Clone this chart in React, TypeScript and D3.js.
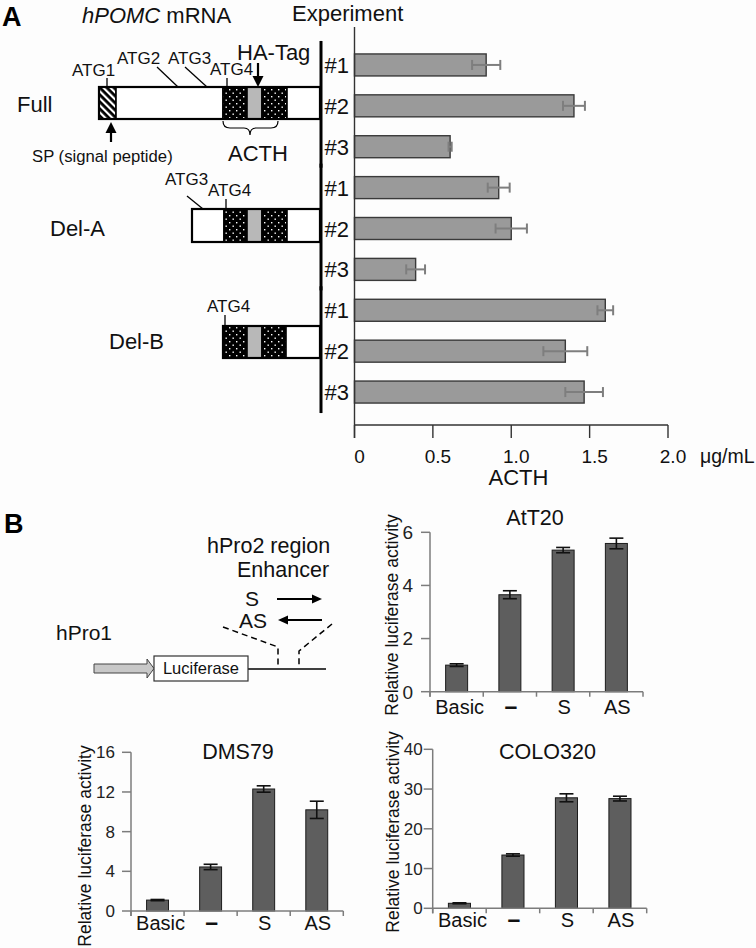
import React from "react";
import * as d3 from "d3";

// ---------- Panel A data ----------
const constructs = ["Full", "Del-A", "Del-B"];
const experiments = ["#1", "#2", "#3"];
const acthMean = [0.84, 1.4, 0.61, 0.92, 1.0, 0.39, 1.6, 1.345, 1.465];
const acthErr = [0.09, 0.07, 0.01, 0.07, 0.1, 0.06, 0.05, 0.14, 0.12];
const acthTicks = [0, 0.5, 1.0, 1.5, 2.0];
const acthTickLabels = ["0", "0.5", "1.0", "1.5", "2.0"];

// ---------- Panel B data ----------
const lucCategories = ["Basic", "–", "S", "AS"];
const att20Values = [1.0, 3.65, 5.33, 5.58];
const att20Errs = [0.05, 0.15, 0.1, 0.2];
const att20Ticks = [0, 2, 4, 6];
const dms79Values = [1.1, 4.44, 12.3, 10.2];
const dms79Errs = [0.06, 0.27, 0.32, 0.87];
const dms79Ticks = [0, 4, 8, 12, 16];
const colo320Values = [1.26, 13.4, 27.8, 27.6];
const colo320Errs = [0.12, 0.3, 1.0, 0.6];
const colo320Ticks = [0, 10, 20, 30, 40];

const FONT = "'Liberation Sans', Arial, Helvetica, sans-serif";

type LucProps = {
  title: string;
  values: number[];
  errs: number[];
  ticks: number[];
  x0: number;
  x1: number;
  yBottom: number;
  yTop: number;
  titleX: number;
  titleY: number;
  labelX: number;
  labelY: number;
  tickLabelGap: number;
  tickFont: number;
  catLabelY: number;
};

function LucChart(p: LucProps) {
  const max = p.ticks[p.ticks.length - 1];
  const x = d3
    .scaleBand<string>()
    .domain(lucCategories)
    .range([p.x0, p.x1])
    .paddingInner(0.587)
    .paddingOuter(0.2935);
  const y = d3.scaleLinear().domain([0, max]).range([p.yBottom, p.yTop]);
  const bw = x.bandwidth();
  const step = x.step();
  const axisColor = "#7c7c7c";
  const bounds = d3.range(lucCategories.length + 1).map((i) => p.x0 + i * step);
  return (
    <g>
      {lucCategories.map((c, i) => (
        <rect
          key={c}
          x={x(c)}
          y={y(p.values[i])}
          width={bw}
          height={y(0) - y(p.values[i])}
          fill="#5e5e5e"
          stroke="#1c1c1c"
          strokeWidth={1}
        />
      ))}
      {lucCategories.map((c, i) => {
        const cx = (x(c) as number) + bw / 2;
        const hi = y(p.values[i] + p.errs[i]);
        const lo = y(p.values[i] - p.errs[i]);
        return (
          <g key={"e" + c} stroke="#111" strokeWidth={1.6}>
            <line x1={cx} x2={cx} y1={hi} y2={lo} />
            <line x1={cx - 7} x2={cx + 7} y1={hi} y2={hi} />
            <line x1={cx - 7} x2={cx + 7} y1={lo} y2={lo} />
          </g>
        );
      })}
      <line x1={p.x0} x2={p.x0} y1={y(max)} y2={p.yBottom + 5} stroke={axisColor} strokeWidth={1.5} />
      <line x1={p.x0} x2={p.x1} y1={p.yBottom} y2={p.yBottom} stroke={axisColor} strokeWidth={1.5} />
      {bounds.map((bx, i) => (
        <line key={"xt" + i} x1={bx} x2={bx} y1={p.yBottom} y2={p.yBottom + 5} stroke={axisColor} strokeWidth={1.5} />
      ))}
      {p.ticks.map((t) => (
        <g key={"yt" + t}>
          <line x1={p.x0 - 9} x2={p.x0} y1={y(t)} y2={y(t)} stroke={axisColor} strokeWidth={1.5} />
          <text
            x={p.x0 - p.tickLabelGap}
            y={y(t) + p.tickFont * 0.36}
            textAnchor="end"
            fontSize={p.tickFont}
            fill="#222"
          >
            {t}
          </text>
        </g>
      ))}
      {lucCategories.map((c) => (
        <text
          key={"cl" + c}
          x={(x(c) as number) + bw / 2 + (c === "Basic" ? 3 : 1)}
          y={p.catLabelY}
          textAnchor="middle"
          fontSize={c === "–" ? 23 : 20}
          fill="#111"
          fontWeight={c === "–" ? 700 : 400}
        >
          {c}
        </text>
      ))}
      <text x={p.titleX} y={p.titleY} textAnchor="middle" fontSize={21.5} fill="#111">
        {p.title}
      </text>
      <text
        transform={`translate(${p.labelX},${p.labelY}) rotate(-90)`}
        textAnchor="middle"
        fontSize={17.5}
        fill="#111"
      >
        Relative luciferase activity
      </text>
    </g>
  );
}

type Seg = { x0: number; x1: number; kind: "white" | "hatch" | "dots" | "gray" };

function Construct({ segs, yTop, h }: { segs: Seg[]; yTop: number; h: number }) {
  const xs = segs[0].x0;
  const xe = segs[segs.length - 1].x1;
  const fillFor = (k: string) =>
    k === "white" ? "#ffffff" : k === "hatch" ? "url(#hatch)" : k === "dots" ? "url(#dots)" : "#b8b8b8";
  return (
    <g>
      {segs.map((s, i) => (
        <rect key={i} x={s.x0} y={yTop} width={s.x1 - s.x0} height={h} fill={fillFor(s.kind)} stroke="#000" strokeWidth={1.6} />
      ))}
      <rect x={xs} y={yTop} width={xe - xs} height={h} fill="none" stroke="#000" strokeWidth={2.2} />
    </g>
  );
}

export default function App() {
  // Panel A scales
  const xA = d3.scaleLinear().domain([0, 2]).range([354.5, 668]);
  const rowKeys = constructs.flatMap((c) => experiments.map((e) => c + e));
  const yA = d3
    .scaleBand<string>()
    .domain(rowKeys)
    .range([44.5, 412.5])
    .paddingInner(0.462)
    .paddingOuter(0.231);
  const bwA = yA.bandwidth();
  const axisY = 425;

  const fullSegs: Seg[] = [
    { x0: 99, x1: 116, kind: "hatch" },
    { x0: 116, x1: 223, kind: "white" },
    { x0: 223, x1: 247, kind: "dots" },
    { x0: 247, x1: 262, kind: "gray" },
    { x0: 262, x1: 287, kind: "dots" },
    { x0: 287, x1: 320, kind: "white" },
  ];
  const delASegs: Seg[] = [
    { x0: 192, x1: 224, kind: "white" },
    { x0: 224, x1: 247, kind: "dots" },
    { x0: 247, x1: 262, kind: "gray" },
    { x0: 262, x1: 287, kind: "dots" },
    { x0: 287, x1: 320, kind: "white" },
  ];
  const delBSegs: Seg[] = [
    { x0: 223, x1: 247, kind: "dots" },
    { x0: 247, x1: 262, kind: "gray" },
    { x0: 262, x1: 286, kind: "dots" },
    { x0: 286, x1: 320, kind: "white" },
  ];

  return (
    <svg
      width={756}
      height={948}
      viewBox="0 0 756 948"
      style={{ position: "absolute", left: 0, top: 0, background: "#fff" }}
      fontFamily={FONT}
    >
      <defs>
        <pattern id="dots" width="7" height="7" patternUnits="userSpaceOnUse">
          <rect width="7" height="7" fill="#000" />
          <rect x="1.5" y="1.5" width="1.4" height="1.4" fill="#fff" />
          <rect x="5" y="5" width="1.4" height="1.4" fill="#fff" />
        </pattern>
        <pattern id="hatch" width="5" height="5" patternUnits="userSpaceOnUse" patternTransform="rotate(-45)">
          <rect width="5" height="5" fill="#000" />
          <rect width="2.2" height="5" fill="#fff" />
        </pattern>
      </defs>
      <rect x={0} y={0} width={756} height={948} fill="#fdfdfd" />

      {/* ===== Panel A ===== */}
      <text x={2} y={26} fontSize={27} fontWeight={700} fill="#000">A</text>
      <text x={82} y={23} fontSize={22} fill="#111">
        <tspan fontStyle="italic">hPOMC</tspan> mRNA
      </text>
      <text x={292} y={21} fontSize={22} fill="#111">Experiment</text>

      {/* Full construct */}
      <Construct segs={fullSegs} yTop={87} h={32} />
      <text x={17} y={112} fontSize={22} fill="#111">Full</text>
      <text x={72} y={76} fontSize={17} fill="#111">ATG1</text>
      <line x1={107} x2={107} y1={78} y2={87} stroke="#000" strokeWidth={1.3} />
      <text x={117} y={64} fontSize={17} fill="#111">ATG2</text>
      <line x1={157} y1={67} x2={178} y2={87} stroke="#000" strokeWidth={1.3} />
      <text x={168} y={64} fontSize={17} fill="#111">ATG3</text>
      <line x1={185} y1={67} x2={207} y2={87} stroke="#000" strokeWidth={1.3} />
      <text x={210} y={75} fontSize={17} fill="#111">ATG4</text>
      <line x1={227} x2={227} y1={78} y2={87} stroke="#000" strokeWidth={1.3} />
      <text x={237} y={60} fontSize={22} fill="#111">HA-Tag</text>
      <line x1={258} x2={258} y1={63} y2={78} stroke="#000" strokeWidth={2.2} />
      <path d="M252.5,76 L263.5,76 L258,87 Z" fill="#000" />
      <line x1={111} x2={111} y1={131} y2={142} stroke="#000" strokeWidth={2.2} />
      <path d="M105.5,133 L116.5,133 L111,122 Z" fill="#000" />
      <text x={32} y={162} fontSize={16.7} fill="#111">SP (signal peptide)</text>
      <path
        d="M223,121 Q223,128 230,128 L244,128 Q250,128 250,135 Q250,128 256,128 L271,128 Q278,128 278,121"
        fill="none"
        stroke="#000"
        strokeWidth={1.2}
      />
      <text x={228} y={161} fontSize={22} fill="#111">ACTH</text>

      {/* Del-A construct */}
      <Construct segs={delASegs} yTop={209} h={33} />
      <text x={50} y={236} fontSize={22} fill="#111">Del-A</text>
      <text x={165} y={185} fontSize={17} fill="#111">ATG3</text>
      <line x1={187} y1={196} x2={203} y2={209} stroke="#000" strokeWidth={1.3} />
      <text x={208} y={196} fontSize={17} fill="#111">ATG4</text>
      <line x1={226} x2={226} y1={199} y2={209} stroke="#000" strokeWidth={1.3} />

      {/* Del-B construct */}
      <Construct segs={delBSegs} yTop={326} h={32} />
      <text x={109} y={349} fontSize={22} fill="#111">Del-B</text>
      <text x={207} y={312} fontSize={17} fill="#111">ATG4</text>
      <line x1={225} x2={225} y1={315} y2={326} stroke="#000" strokeWidth={1.3} />

      {/* group brackets */}
      {constructs.map((c) => {
        const top = (yA(c + "#1") as number) - 13;
        const bot = (yA(c + "#3") as number) + bwA + 10;
        return <line key={"br" + c} x1={321} x2={321} y1={top} y2={bot} stroke="#000" strokeWidth={3} />;
      })}

      {/* bars */}
      {rowKeys.map((k, i) => (
        <rect
          key={k}
          x={xA(0)}
          y={yA(k)}
          width={xA(acthMean[i]) - xA(0)}
          height={bwA}
          fill="#9a9a9a"
          stroke="#3a3a3a"
          strokeWidth={1.4}
        />
      ))}
      {rowKeys.map((k, i) => {
        const cy = (yA(k) as number) + bwA / 2;
        const a = xA(acthMean[i] - acthErr[i]);
        const b = xA(acthMean[i] + acthErr[i]);
        return (
          <g key={"ea" + k} stroke="#7e7e7e" strokeWidth={2}>
            <line x1={a} x2={b} y1={cy} y2={cy} />
            <line x1={a} x2={a} y1={cy - 5} y2={cy + 5} />
            <line x1={b} x2={b} y1={cy - 5} y2={cy + 5} />
          </g>
        );
      })}
      {rowKeys.map((k, i) => (
        <text
          key={"lb" + k}
          x={349}
          y={(yA(k) as number) + bwA / 2 + 8}
          textAnchor="end"
          fontSize={22}
          fill="#111"
        >
          {experiments[i % 3]}
        </text>
      ))}

      {/* axes */}
      <line x1={354.5} x2={354.5} y1={27} y2={axisY + 13} stroke="#333" strokeWidth={1.4} />
      <line x1={354.5} x2={xA(2)} y1={axisY} y2={axisY} stroke="#333" strokeWidth={1.4} />
      {acthTicks.map((t, i) => (
        <g key={"at" + t}>
          <line x1={xA(t)} x2={xA(t)} y1={axisY} y2={axisY + 13} stroke="#333" strokeWidth={1.4} />
          <text x={xA(t) + 5} y={463} textAnchor="middle" fontSize={19} fill="#111">
            {acthTickLabels[i]}
          </text>
        </g>
      ))}
      <text x={700} y={463} fontSize={19.5} fill="#111">μg/mL</text>
      <text x={518.5} y={485} textAnchor="middle" fontSize={22} fill="#111">ACTH</text>

      {/* ===== Panel B ===== */}
      <text x={4} y={533} fontSize={27} fontWeight={700} fill="#000">B</text>
      <text x={207} y={553} fontSize={21.5} fill="#111">hPro2 region</text>
      <text x={237} y={577} fontSize={21.5} fill="#111">Enhancer</text>
      <text x={245} y={606} fontSize={21} fill="#111">S</text>
      <line x1={277} x2={313} y1={599} y2={599} stroke="#000" strokeWidth={2} />
      <path d="M312,594.5 L322,599 L312,603.5 Z" fill="#000" />
      <text x={239} y={628} fontSize={21} fill="#111">AS</text>
      <line x1={287} x2={322} y1={620} y2={620} stroke="#000" strokeWidth={2} />
      <path d="M288,615.5 L278,620 L288,624.5 Z" fill="#000" />
      <text x={56} y={640} fontSize={21} fill="#111">hPro1</text>
      <path
        d="M223,627 L278,647 L278,667 M332,624 L299,651 L299,667"
        fill="none"
        stroke="#000"
        strokeWidth={1.5}
        strokeDasharray="6 4"
      />
      <line x1={248} x2={326} y1={669} y2={669} stroke="#000" strokeWidth={1.5} />
      <path
        d="M94,664 L147,664 L147,659 L154,668.5 L147,678 L147,673 L94,673 Z"
        fill="#c8c8c8"
        stroke="#444"
        strokeWidth={1}
      />
      <rect x={154} y={656} width={94} height={25} fill="#fff" stroke="#333" strokeWidth={1.2} />
      <text x={201} y={674} textAnchor="middle" fontSize={16.5} fill="#111">Luciferase</text>

      <LucChart
        title="AtT20"
        values={att20Values}
        errs={att20Errs}
        ticks={att20Ticks}
        x0={430}
        x1={643}
        yBottom={691.7}
        yTop={532.3}
        titleX={535}
        titleY={525}
        labelX={398}
        labelY={615}
        tickLabelGap={17}
        tickFont={19}
        catLabelY={714}
      />
      <LucChart
        title="DMS79"
        values={dms79Values}
        errs={dms79Errs}
        ticks={dms79Ticks}
        x0={131}
        x1={343.3}
        yBottom={911}
        yTop={752.3}
        titleX={238}
        titleY={759}
        labelX={91}
        labelY={846}
        tickLabelGap={16}
        tickFont={17}
        catLabelY={930}
      />
      <LucChart
        title="COLO320"
        values={colo320Values}
        errs={colo320Errs}
        ticks={colo320Ticks}
        x0={432.7}
        x1={646.7}
        yBottom={908.3}
        yTop={749.3}
        titleX={547.5}
        titleY={759}
        labelX={399}
        labelY={832}
        tickLabelGap={10}
        tickFont={17}
        catLabelY={927}
      />
    </svg>
  );
}
